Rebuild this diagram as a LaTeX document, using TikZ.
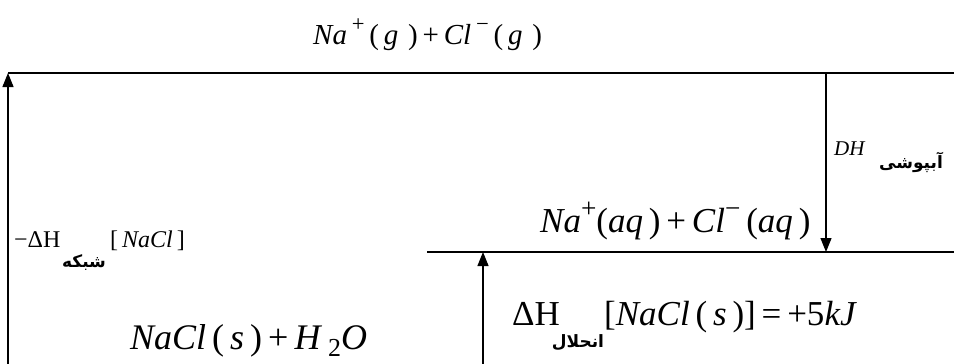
\documentclass[tikz,border=0pt]{standalone}
\usepackage{fontspec}
\setmainfont{Liberation Serif}
\newfontfamily\arabicfont[Script=Arabic]{DejaVu Sans}
\TeXXeTstate=1
\usetikzlibrary{arrows.meta}
\newcommand{\chup}[1]{\raisebox{0.42em}{\scalebox{0.78}{#1}}}
\newcommand{\chdown}[1]{\raisebox{-0.2em}{\scalebox{0.72}{#1}}}
\tikzset{
  level/.style={line width=1.8pt},
  arr/.style={line width=1.2pt,-{Triangle[length=14pt,width=11pt]}},
  lbl/.style={inner sep=0pt,font=\fontsize{29}{32}\selectfont},
  mid/.style={inner sep=0pt,font=\fontsize{24}{28}\selectfont},
  big/.style={inner sep=0pt,font=\fontsize{35}{38}\selectfont},
  fa/.style={inner sep=0pt,font=\arabicfont\bfseries\fontsize{17}{20}\selectfont},
}
\begin{document}
\begin{tikzpicture}[x=1pt,y=-1pt]
\useasboundingbox (0,0) rectangle (954,364);
% coordinates
\coordinate (tl) at (8,73);
\coordinate (tr) at (954,73);
\coordinate (bl) at (8,364);
\coordinate (dtop) at (826,73);
\coordinate (ml) at (427,252);
\coordinate (mr) at (954,252);
\coordinate (dbot) at (826,252);
\coordinate (ubot) at (483,364);
\coordinate (utop) at (483,252);
% levels
\draw[level] (tl) -- (tr);
\draw[line width=1.3pt] (ml) -- (mr);
% arrows
\draw[arr] (bl) -- (tl);
\draw[arr] (dtop) -- (dbot);
\draw[arr] (ubot) -- (utop);
% texts
\node[lbl,anchor=base west] (gas) at (313,44) {\textit{Na}\,\chup{+}\,(\,\textit{g}\,\,)\,+\,\textit{Cl}\,\chup{−}\,(\,\textit{g}\,\,)};
\node[big,anchor=base west] (aq) at (540,232) {\textit{Na}\chup{+}(\textit{aq}\,)\,+\,\textit{Cl}\chup{−}\,(\textit{aq}\,)};
\node[big,anchor=base west,font=\fontsize{36}{40}\selectfont] (solid) at (130,349) {\textit{NaCl}\,(\,\textit{s}\,)\,+\,\textit{H}\,\chdown{2}\textit{O}};
\node[big,anchor=base west] (dhs) at (512,325) {ΔH};
\node[big,anchor=base west] (dhsr) at (604,325) {[\textit{NaCl}\,(\,\textit{s}\,)]\,=\,+5\textit{kJ}};
\node[fa] (enhelal) at (578,343) {\beginR انحلال\endR};
\node[mid,anchor=base west] (lat) at (14,247) {−ΔH};
\node[mid,anchor=base west] (latr) at (110,247) {[\,\textit{NaCl}\,]};
\node[fa] (shabake) at (84,263) {\beginR شبکه\endR};
\node[anchor=base west,inner sep=0pt,font=\fontsize{21}{24}\selectfont] (dh) at (834,155) {\textit{DH}};
\node[fa] (abpooshi) at (911,162) {\beginR آبپوشی\endR};
\end{tikzpicture}
\end{document}
